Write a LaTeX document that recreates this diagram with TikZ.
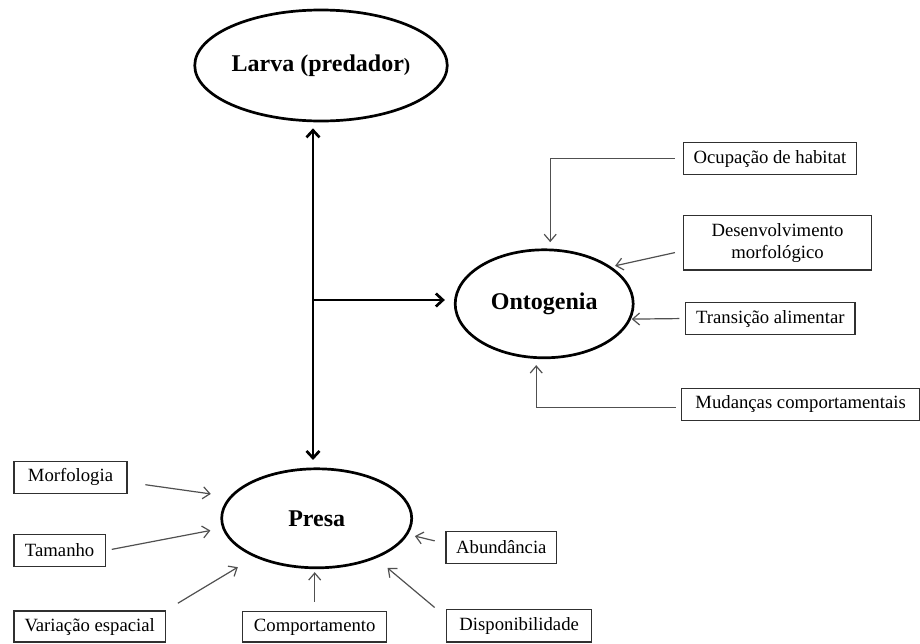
\documentclass[tikz,border=0pt]{standalone}
\usepackage{fontspec}
\setmainfont{Liberation Serif}
\usetikzlibrary{arrows.meta,shapes.geometric}
\definecolor{conncol}{HTML}{505050}
\definecolor{boxcol}{HTML}{303030}
\begin{document}
\begin{tikzpicture}[x=1pt,y=-1pt,
  ell/.style={ellipse,draw=black,line width=2.7pt,inner sep=0pt,font=\fontsize{24}{26}\selectfont\bfseries},
  box/.style={rectangle,draw=boxcol,line width=1.1pt,inner sep=0pt,font=\fontsize{18.7}{22.5}\selectfont,align=center},
  conn/.style={draw=conncol,line width=1.2pt,-{Straight Barb[length=7pt,width=12pt]}},
  mainline/.style={draw=black,line width=2.7pt},
  bigtip/.tip={Straight Barb[length=7pt,width=13pt]},
]
\useasboundingbox (0,0) rectangle (920,643);

% ellipses
\node[ell,minimum width=252pt,minimum height=111pt] (larva) at (321,65.5) {Larva (predador{\fontsize{19}{20}\selectfont)}};
\node[ell,minimum width=178pt,minimum height=108pt] (ontog) at (544.2,303.8) {Ontogenia};
\node[ell,minimum width=190pt,minimum height=99pt] (presa) at (316.7,518.3) {Presa};

% boxes
\node[box,minimum width=173.4pt,minimum height=31.6pt] (ocup) at (770,158.5) {Ocupação de habitat};
\node[box,minimum width=188.4pt,minimum height=54.3pt] (desenv) at (777.5,242.85) {Desenvolvimento\\morfológico};
\node[box,minimum width=169.3pt,minimum height=31.6pt] (trans) at (770.35,318.5) {Transição alimentar};
\node[box,minimum width=237.8pt,minimum height=31.7pt] (mud) at (800.6,404.2) {Mudanças comportamentais};
\node[box,minimum width=113pt,minimum height=32.3pt] (morf) at (70.5,477.2) {Morfologia};
\node[box,minimum width=91.3pt,minimum height=32.4pt] (tam) at (59.65,550.5) {Tamanho};
\node[box,minimum width=151.3pt,minimum height=31pt] (var) at (89.65,626.5) {Variação espacial};
\node[box,minimum width=144pt,minimum height=30.3pt] (comp) at (314.7,626.85) {Comportamento};
\node[box,minimum width=110.7pt,minimum height=31.6pt] (abund) at (501.35,547.5) {Abundância};
\node[box,minimum width=145pt,minimum height=32.7pt] (disp) at (519.2,625.65) {Disponibilidade};

% main arrows
\coordinate (axis) at (313,300);
\draw[mainline,bigtip-bigtip,shorten <=6pt,shorten >=7.5pt] (larva.south -| axis) -- (presa.north -| axis);
\draw[mainline,-bigtip,shorten >=9pt] (axis) -- (axis -| ontog.west);

% ontogenia influences
\draw[conn,shorten <=8pt,shorten >=6.3pt] (ocup.west) -| ([xshift=6pt]ontog.north);
\draw[conn,shorten <=8pt,shorten >=4pt] ([yshift=-8pt]desenv.west) -- (ontog.29);
\draw[conn,shorten <=5.7pt,shorten >=0.7pt] (trans.west) -- (ontog.350);
\draw[conn,shorten <=5.5pt,shorten >=6pt] ([yshift=-3pt]mud.west) -| ([xshift=-8pt]ontog.south);

% presa influences
\draw[conn,shorten <=18pt,shorten >=19pt] ([yshift=-5pt]morf.east) -- (presa.166);
\draw[conn,shorten <=6pt,shorten >=12pt] (tam.east) -- (presa.186);
\draw[conn,shorten <=14pt,shorten >=19.5pt] (var.north east) -- (presa.212);
\draw[conn,shorten <=9.5pt,shorten >=3pt] (comp.north) -- (comp.north |- presa.south);
\draw[conn,shorten <=11pt,shorten >=7pt] ([yshift=4pt]abund.west) -- (presa.350);
\draw[conn,shorten <=2pt,shorten >=15pt] ([xshift=-10pt]disp.north west) -- (presa.326);
\end{tikzpicture}
\end{document}
